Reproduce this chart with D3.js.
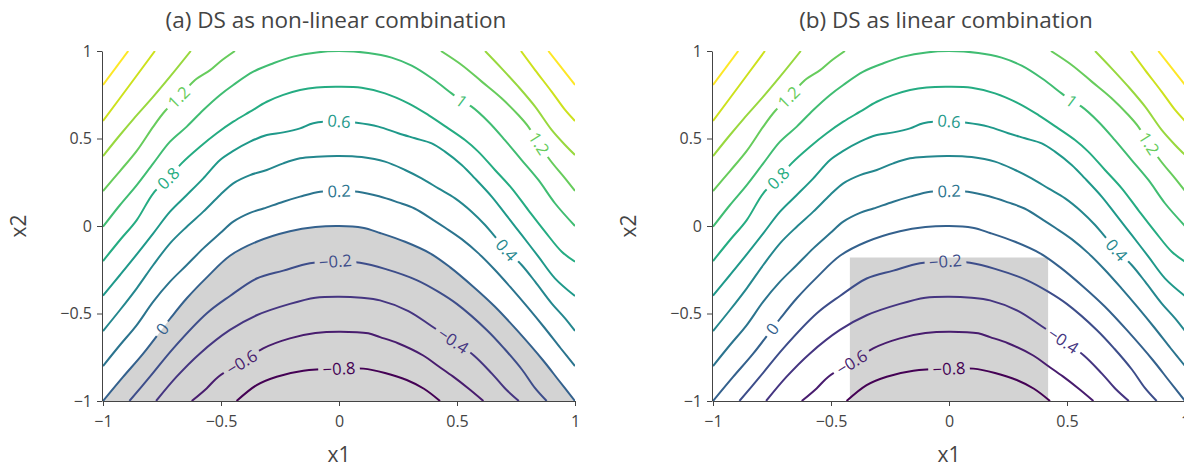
<!DOCTYPE html>
<html>
<head>
<meta charset="utf-8">
<script src="https://cdn.jsdelivr.net/npm/d3@7"></script>
<style>
  body { margin: 0; background: #fff; }
  svg { font-family: "Open Sans", sans-serif; }
  .axis text { fill: #444; font-size: 16px; font-family: "Open Sans", sans-serif; }
  .axis path, .axis line { stroke: #444; }
</style>
</head>
<body>
<svg id="chart" width="1184" height="467"></svg>
<script>
// contour levels (same surface in both panels)
const levels = [-0.8, -0.6, -0.4, -0.2, 0, 0.2, 0.4, 0.6, 0.8, 1.0, 1.2, 1.4, 1.6, 1.8];

// each level: list of line pieces, each piece a list of [x1, x2]
const lineM08 = [[[-0.434,-1],[-0.349,-0.909],[-0.264,-0.861],[-0.151,-0.827],[0,-0.815],[0.103,-0.815],[0.195,-0.84],[0.287,-0.88],[0.36,-0.93],[0.428,-1]]];
const lineM06 = [[[-0.624,-1],[-0.561,-0.928],[-0.511,-0.861],[-0.412,-0.78],[-0.321,-0.699],[-0.208,-0.642],[-0.1,-0.612],[0,-0.604],[0.124,-0.613],[0.174,-0.635],[0.25,-0.67],[0.357,-0.74],[0.42,-0.8],[0.484,-0.861],[0.55,-0.93],[0.612,-1]]];
const lineM04 = [[[-0.775,-1],[-0.688,-0.861],[-0.589,-0.728],[-0.462,-0.594],[-0.349,-0.51],[-0.208,-0.445],[-0.1,-0.41],[0,-0.404],[0.096,-0.41],[0.174,-0.425],[0.294,-0.486],[0.39,-0.57],[0.484,-0.655],[0.569,-0.737],[0.647,-0.842],[0.705,-0.93],[0.762,-1]]];
const lineM02 = [[[-0.888,-1],[-0.801,-0.861],[-0.702,-0.699],[-0.561,-0.5],[-0.462,-0.4],[-0.349,-0.3],[-0.236,-0.255],[-0.123,-0.213],[0,-0.2],[0.089,-0.21],[0.195,-0.245],[0.329,-0.309],[0.42,-0.375],[0.499,-0.445],[0.626,-0.594],[0.7,-0.7],[0.775,-0.82],[0.83,-0.925],[0.88,-1]]];
const line00 = [[[-1,-1],[-0.914,-0.861],[-0.829,-0.728],[-0.716,-0.53],[-0.645,-0.413],[-0.561,-0.295],[-0.462,-0.17],[-0.349,-0.09],[-0.208,-0.03],[-0.1,-0.006],[0,0],[0.1,-0.01],[0.174,-0.04],[0.28,-0.09],[0.386,-0.156],[0.47,-0.235],[0.569,-0.347],[0.66,-0.46],[0.753,-0.594],[0.866,-0.77],[0.93,-0.88],[1,-1]]];
const line02 = [[[-1,-0.8],[-0.928,-0.68],[-0.857,-0.566],[-0.787,-0.432],[-0.716,-0.318],[-0.645,-0.223],[-0.575,-0.128],[-0.504,-0.042],[-0.448,0.025],[-0.377,0.075],[-0.32,0.1],[-0.236,0.139],[-0.165,0.168],[-0.08,0.196],[0,0.2],[0.08,0.196],[0.17,0.17],[0.25,0.135],[0.32,0.1],[0.4,0.034],[0.45,-0.01],[0.52,-0.075],[0.59,-0.155],[0.66,-0.25],[0.73,-0.355],[0.8,-0.465],[0.87,-0.58],[0.94,-0.7],[1,-0.8]]];
const line04 = [[[-1,-0.6],[-0.928,-0.48],[-0.857,-0.356],[-0.787,-0.223],[-0.716,-0.099],[-0.645,-0.004],[-0.575,0.082],[-0.504,0.177],[-0.448,0.244],[-0.377,0.291],[-0.306,0.32],[-0.236,0.358],[-0.165,0.387],[-0.095,0.396],[0,0.4],[0.096,0.394],[0.195,0.368],[0.28,0.32],[0.35,0.272],[0.421,0.215],[0.492,0.158],[0.562,0.082],[0.619,0.006],[0.661,-0.061],[0.71,-0.137],[0.774,-0.223],[0.831,-0.318],[0.901,-0.442],[0.958,-0.528],[1,-0.6]]];
const line06 = [[[-1,-0.398],[-0.928,-0.28],[-0.857,-0.162],[-0.787,-0.042],[-0.716,0.082],[-0.645,0.177],[-0.575,0.272],[-0.504,0.377],[-0.448,0.429],[-0.377,0.482],[-0.306,0.52],[-0.236,0.535],[-0.165,0.558],[-0.109,0.587],[0,0.598],[0.075,0.59],[0.167,0.568],[0.251,0.53],[0.322,0.501],[0.393,0.472],[0.449,0.425],[0.52,0.349],[0.576,0.272],[0.647,0.168],[0.703,0.072],[0.774,-0.051],[0.845,-0.175],[0.915,-0.299],[1,-0.4]]];
const line08 = [[[-1,-0.2],[-0.928,-0.08],[-0.857,0.034],[-0.787,0.187],[-0.723,0.272],[-0.667,0.358],[-0.589,0.453],[-0.518,0.53],[-0.448,0.596],[-0.377,0.653],[-0.306,0.71],[-0.236,0.749],[-0.165,0.777],[-0.095,0.792],[0,0.796],[0.096,0.79],[0.195,0.758],[0.294,0.701],[0.379,0.634],[0.463,0.558],[0.534,0.491],[0.59,0.425],[0.661,0.32],[0.732,0.215],[0.802,0.091],[0.873,-0.032],[0.944,-0.147],[1,-0.204]]];
const line10 = [[[-1,-0.004],[-0.928,0.12],[-0.857,0.234],[-0.787,0.358],[-0.716,0.482],[-0.645,0.568],[-0.575,0.663],[-0.504,0.749],[-0.448,0.806],[-0.363,0.882],[-0.278,0.93],[-0.194,0.968],[-0.095,0.992],[0,1],[0.124,0.989],[0.223,0.962],[0.308,0.916],[0.393,0.844],[0.477,0.758],[0.52,0.714],[0.562,0.682],[0.633,0.596],[0.703,0.491],[0.774,0.377],[0.845,0.263],[0.915,0.13],[1,0]]];
const line12 = [[[-1,0.2],[-0.928,0.314],[-0.857,0.429],[-0.787,0.568],[-0.737,0.657],[-0.675,0.74],[-0.61,0.834],[-0.546,0.891],[-0.504,0.939],[-0.441,1]],
                [[0.432,1],[0.52,0.92],[0.605,0.825],[0.689,0.73],[0.76,0.634],[0.802,0.568],[0.848,0.472],[0.894,0.377],[0.958,0.272],[1,0.2]]];
const line14 = [[[-1,0.4],[-0.928,0.52],[-0.871,0.611],[-0.787,0.739],[-0.716,0.853],[-0.628,1]],
                [[0.619,1],[0.689,0.901],[0.76,0.796],[0.831,0.682],[0.901,0.549],[0.958,0.463],[1,0.406]]];
const line16 = [[[-1,0.6],[-0.89,0.8],[-0.78,1]],
                [[0.771,1],[0.831,0.891],[0.901,0.768],[0.958,0.663],[1,0.6]]];
const line18 = [[[-1,0.806],[-0.893,1]],
                [[0.887,1],[1,0.806]]];
const levelLines = [lineM08, lineM06, lineM04, lineM02, line00, line02, line04, line06, line08, line10, line12, line14, line16, line18];

// inline labels: [level, x1, x2]
const contourLabels = [[1.2,-0.675,0.73],[0.8,-0.723,0.272],[0.6,0,0.595],[0.2,0,0.2],[-0.2,-0.015,-0.205],
  [0,-0.751,-0.585],[-0.6,-0.412,-0.78],[-0.8,0,-0.815],[-0.4,0.484,-0.655],[0.4,0.71,-0.137],[1,0.52,0.714],[1.2,0.848,0.472]];

// panel (b) shaded box
const boxX1 = [-0.42, 0.42];
const boxX2 = [-1, -0.18];

const ticks = [-1, -0.5, 0, 0.5, 1];
const titles = ["(a) DS as non-linear combination", "(b) DS as linear combination"];

const svg = d3.select("#chart");
const defs = svg.append("defs");
const plotW = 472, plotTop = 51, plotBottom = 401;
const lefts = [103, 713];
const color = v => d3.interpolateViridis((v - levels[0]) / (levels[levels.length - 1] - levels[0]));
const fmt = v => v < 0 ? "\u2212" + Math.abs(v) : String(v);

function nearest(pieces, px, py, x, y) {
  let best = Infinity, res = null;
  pieces.forEach(pc => {
    for (let k = 0; k < pc.length - 1; k++) {
      const ax = x(pc[k][0]), ay = y(pc[k][1]), bx = x(pc[k + 1][0]), by = y(pc[k + 1][1]);
      const dx = bx - ax, dy = by - ay;
      let t = ((px - ax) * dx + (py - ay) * dy) / (dx * dx + dy * dy);
      t = Math.max(0, Math.min(1, t));
      const qx = ax + t * dx, qy = ay + t * dy;
      const d = Math.hypot(px - qx, py - qy);
      if (d < best) { best = d; res = { x: qx, y: qy, a: Math.atan2(dy, dx) * 180 / Math.PI }; }
    }
  });
  if (res.a > 90) res.a -= 180;
  if (res.a < -90) res.a += 180;
  return res;
}

lefts.forEach((left, i) => {
  const x = d3.scaleLinear().domain([-1, 1]).range([left, left + plotW]);
  const y = d3.scaleLinear().domain([-1, 1]).range([plotBottom, plotTop]);
  const line = d3.line().x(d => x(d[0])).y(d => y(d[1])).curve(d3.curveCatmullRom.alpha(0.5));

  defs.append("clipPath").attr("id", "clip" + i)
    .append("rect").attr("x", left).attr("y", plotTop).attr("width", plotW).attr("height", plotBottom - plotTop);

  const g = svg.append("g");

  // shaded region
  if (i === 0) {
    g.append("path").attr("d", line(line00[0]) + "Z").attr("fill", "#d3d3d3");
  } else {
    g.append("rect")
      .attr("x", x(boxX1[0])).attr("y", y(boxX2[1]))
      .attr("width", x(boxX1[1]) - x(boxX1[0])).attr("height", y(boxX2[0]) - y(boxX2[1]))
      .attr("fill", "#d3d3d3");
  }

  // label gaps
  const mask = defs.append("mask").attr("id", "gap" + i).attr("maskUnits", "userSpaceOnUse")
    .attr("x", 0).attr("y", 0).attr("width", 1184).attr("height", 467);
  mask.append("rect").attr("width", 1184).attr("height", 467).attr("fill", "white");

  const lines = g.append("g").attr("clip-path", `url(#clip${i})`)
    .append("g").attr("mask", `url(#gap${i})`);
  levels.forEach((lv, k) => {
    lines.selectAll(null).data(levelLines[k]).join("path")
      .attr("d", line).attr("fill", "none")
      .attr("stroke", color(lv)).attr("stroke-width", 2);
  });

  const labG = g.append("g");
  contourLabels.forEach(([lv, lx, ly]) => {
    const k = levels.indexOf(lv);
    const p = nearest(levelLines[k], x(lx), y(ly), x, y);
    const t = labG.append("text")
      .attr("transform", `translate(${p.x},${p.y}) rotate(${p.a})`)
      .attr("text-anchor", "middle").attr("dy", "0.36em")
      .attr("font-size", 16.5).attr("fill", color(lv))
      .text(fmt(lv));
    const w = t.node().getComputedTextLength() + 9;
    mask.append("rect")
      .attr("x", -w / 2).attr("y", -9).attr("width", w).attr("height", 18)
      .attr("transform", `translate(${p.x},${p.y}) rotate(${p.a})`)
      .attr("fill", "black");
  });

  // axes
  svg.append("g").attr("class", "axis").attr("transform", `translate(0,${plotBottom})`)
    .call(d3.axisBottom(x).tickValues(ticks).tickFormat(fmt).tickSize(5).tickPadding(10).tickSizeOuter(0));
  svg.append("g").attr("class", "axis").attr("transform", `translate(${left - 1},0)`)
    .call(d3.axisLeft(y).tickValues(ticks).tickFormat(fmt).tickSize(5).tickPadding(5).tickSizeOuter(0));

  svg.append("text").attr("x", x(0) - 3).attr("y", 28).attr("text-anchor", "middle")
    .attr("font-size", 22.5).attr("fill", "#444").text(titles[i]);
  svg.append("text").attr("x", x(0)).attr("y", 462).attr("text-anchor", "middle")
    .attr("font-size", 21).attr("fill", "#444").text("x1");
  svg.append("text").attr("transform", `translate(${left - 84},${y(0)}) rotate(-90)`)
    .attr("text-anchor", "middle").attr("dy", "0.35em")
    .attr("font-size", 21).attr("fill", "#444").text("x2");
});
</script>
</body>
</html>
